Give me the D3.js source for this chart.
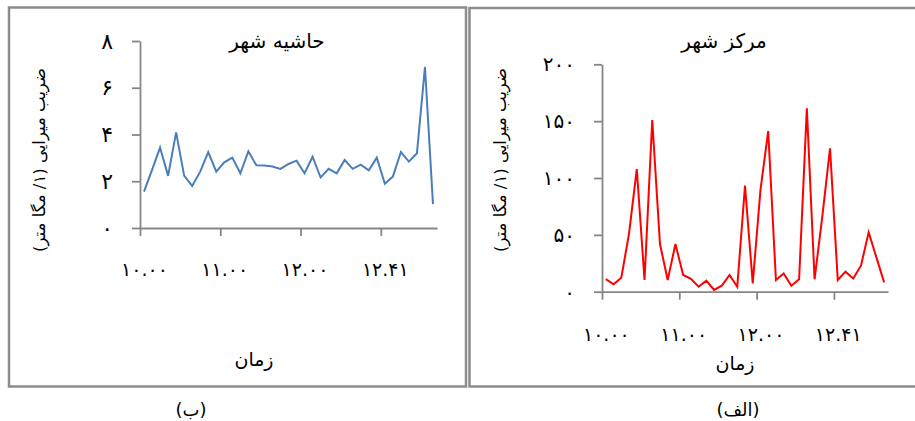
<!DOCTYPE html>
<html>
<head>
<meta charset="utf-8">
<script src="https://cdn.jsdelivr.net/npm/d3@7"></script>
<style>
  html, body { margin: 0; padding: 0; background: #fff; }
  svg { display: block; font-family: "DejaVu Sans", sans-serif; }
</style>
</head>
<body>
<svg id="chart" width="915" height="421"></svg>
<script>
// ---- data ----
const categories = d3.range(37);              // sampling instants (37 readings)
const tickIndices = [0, 10, 20, 30];
const tickLabels = ["10.00", "11.00", "12.00", "12.41"];

const suburbValues = [1.56, 2.49, 3.44, 2.23, 4.09, 2.24, 1.80, 2.41, 3.25, 2.41,
                      2.81, 3.01, 2.34, 3.28, 2.68, 2.67, 2.63, 2.53, 2.74, 2.88,
                      2.34, 3.05, 2.16, 2.53, 2.34, 2.91, 2.53, 2.71, 2.47, 3.01,
                      1.89, 2.20, 3.25, 2.84, 3.20, 6.89, 1.02];
const centerValues = [11, 6.5, 12.3, 51.3, 107.9, 10.3, 151, 41.9, 10.3, 41.9,
                      14.7, 11.4, 4.4, 9.7, 1.5, 5.3, 14.7, 4.4, 93.3, 7.3,
                      89.4, 141.3, 10.3, 16.1, 5.3, 10.9, 161.3, 10.9, 66, 126.1,
                      10.3, 17.6, 11.7, 22.9, 52.2, 30.2, 8.2];
const suburbTicks = [0, 2, 4, 6, 8];
const centerTicks = [0, 50, 100, 150, 200];

const suburbTitle = "حاشیه شهر";
const centerTitle = "مرکز شهر";
const yTitle = "ضریب میرایی (۱/ مگا متر)";
const xTitle = "زمان";
const captionLeft = "(ب)";
const captionRight = "(الف)";

// ---- helpers ----
const faDigits = "۰۱۲۳۴۵۶۷۸۹";
const toFa = s => String(s).replace(/[0-9]/g, d => faDigits[+d]);

const svg = d3.select("#chart");
const axisColor = "#868686";
const borderColor = "#8c8c8c";

// panel borders
svg.append("rect").attr("x", 9).attr("y", 7.5).attr("width", 457).attr("height", 379)
  .attr("fill", "none").attr("stroke", borderColor).attr("stroke-width", 2.5);
svg.append("path").attr("d", "M915,8 H469.5 V386.5 H915")
  .attr("fill", "none").attr("stroke", borderColor).attr("stroke-width", 2.5);

function panel(cfg) {
  const g = svg.append("g");
  const x = d3.scaleLinear().domain([0, categories.length]).range([cfg.x0, cfg.x1]);
  const y = d3.scaleLinear().domain([cfg.ticks[0], cfg.ticks[cfg.ticks.length - 1]]).range([cfg.yb, cfg.yt]);

  // y axis
  const ya = g.append("g").attr("transform", `translate(${cfg.x0},0)`)
    .call(d3.axisLeft(y).tickValues(cfg.ticks).tickSize(8).tickSizeOuter(0)
      .tickPadding(cfg.yPad).tickFormat(toFa));
  ya.selectAll("path,line").attr("stroke", axisColor).attr("stroke-width", 1.8);
  ya.selectAll("text").attr("font-size", cfg.yFont).attr("fill", "#000")
    .attr("font-family", "DejaVu Sans").style("direction", "ltr");

  // x axis ticks
  const xa = g.append("g").attr("transform", `translate(0,${cfg.yb})`)
    .call(d3.axisBottom(x).tickValues(tickIndices).tickSize(8).tickSizeOuter(0).tickFormat(""));
  xa.selectAll("path,line").attr("stroke", axisColor).attr("stroke-width", 1.8);

  // x labels (centred on category)
  const xl = g.append("g").attr("transform", `translate(0,${cfg.yb})`)
    .call(d3.axisBottom(x).tickValues(tickIndices.map(i => i + 0.5)).tickSize(0)
      .tickPadding(cfg.xPad).tickFormat((d, i) => toFa(tickLabels[i])));
  xl.select(".domain").remove();
  xl.selectAll("text").attr("font-size", 19).attr("fill", "#000")
    .attr("font-family", "DejaVu Sans").style("direction", "ltr");

  // line
  const line = d3.line().x((d, i) => x(i + 0.5)).y(d => y(d));
  g.append("path").datum(cfg.values).attr("d", line)
    .attr("fill", "none").attr("stroke", cfg.color).attr("stroke-width", 2)
    .attr("stroke-linejoin", "miter");

  // titles
  g.append("text").attr("x", cfg.titleX).attr("y", cfg.titleY).attr("text-anchor", "middle")
    .attr("font-size", 20).style("direction", "rtl").text(cfg.title);
  g.append("text").attr("transform", `translate(${cfg.ytX},160) rotate(-90)`)
    .attr("text-anchor", "middle").attr("dominant-baseline", "central")
    .attr("font-size", 16.5).style("direction", "rtl").attr("unicode-bidi", "embed").text(yTitle);
  g.append("text").attr("x", cfg.xtX).attr("y", cfg.xtY).attr("text-anchor", "middle")
    .attr("dominant-baseline", "central").attr("font-size", 19).style("direction", "rtl").text(xTitle);
  g.append("text").attr("x", cfg.capX).attr("y", 409).attr("text-anchor", "middle")
    .attr("dominant-baseline", "central").attr("font-size", 18).style("direction", "rtl").text(cfg.caption);
}

panel({
  x0: 140, x1: 437, yb: 228, yt: 41, ticks: suburbTicks, values: suburbValues,
  color: "#4A7EBB", yPad: 19, yFont: 22, xPad: 35,
  title: suburbTitle, titleX: 277, titleY: 48,
  ytX: 39, xtX: 254, xtY: 359, caption: captionLeft, capX: 191
});
panel({
  x0: 602, x1: 888, yb: 291.7, yt: 64.3, ticks: centerTicks, values: centerValues,
  color: "#FF0000", yPad: 19, yFont: 20, xPad: 36,
  title: centerTitle, titleX: 724, titleY: 48,
  ytX: 500, xtX: 735, xtY: 363, caption: captionRight, capX: 738
});
</script>
</body>
</html>
